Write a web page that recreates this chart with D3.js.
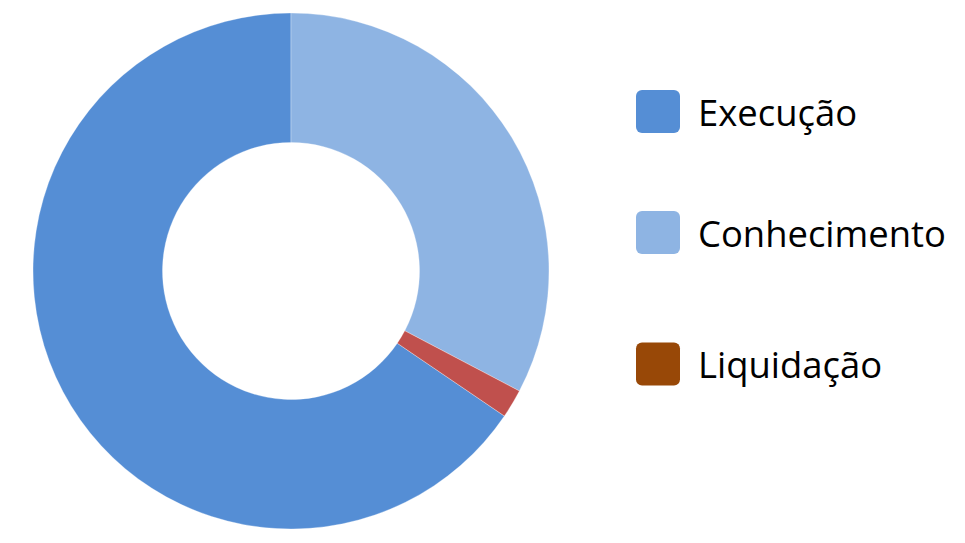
<!DOCTYPE html>
<html>
<head>
<meta charset="utf-8">
<script src="https://cdn.jsdelivr.net/npm/d3@7"></script>
<style>
  html, body { margin: 0; padding: 0; background: #ffffff; }
  svg { display: block; }
</style>
</head>
<body>
<svg id="chart" width="965" height="543"></svg>
<script>
// Share of each stage (percent)
const categories = ["Execução", "Conhecimento", "Liquidação"];
const values = [65.5, 32.7, 1.8];
const sliceColors = ["#558ED5", "#8EB4E3", "#C0504D"];
const legendColors = ["#558ED5", "#8EB4E3", "#984807"];

const width = 965, height = 543;
const cx = 291, cy = 271;
const outerR = 258, innerR = 128.5;

const svg = d3.select("#chart");

// The first series starts where the remaining ones end, so that it closes at 12 o'clock
const total = d3.sum(values);
const rot = 2 * Math.PI * (total - values[0]) / total;

const pie = d3.pie()
  .sort(null)
  .value(d => d)
  .startAngle(rot)
  .endAngle(rot + 2 * Math.PI);

const arc = d3.arc().innerRadius(innerR).outerRadius(outerR);

const g = svg.append("g").attr("transform", `translate(${cx},${cy})`);
g.selectAll("path")
  .data(pie(values))
  .join("path")
  .attr("d", arc)
  .attr("fill", (d, i) => sliceColors[i])
  .attr("stroke", "#ffffff")
  .attr("stroke-opacity", 0.5)
  .attr("stroke-width", 0.6);

// Legend
const legendY = d3.scaleOrdinal().domain(categories).range([111.5, 232.5, 364]);
const leg = svg.append("g");
const items = leg.selectAll("g")
  .data(categories)
  .join("g")
  .attr("transform", d => `translate(636,${legendY(d)})`);

items.append("rect")
  .attr("x", 0).attr("y", -21.5)
  .attr("width", 44).attr("height", 43)
  .attr("rx", 6).attr("ry", 6)
  .attr("fill", (d, i) => legendColors[i]);

items.append("text")
  .attr("x", 62).attr("y", 14)
  .attr("font-family", "'Open Sans', sans-serif")
  .attr("font-size", 35)
  .attr("fill", "#000000")
  .text(d => d);

// Fit the text so the longest label spans the available width
const longest = items.selectAll("text").filter(d => d === "Conhecimento").node();
const w = longest.getComputedTextLength();
const fs = 35 * 248 / w;
items.selectAll("text").attr("font-size", fs);
</script>
</body>
</html>
